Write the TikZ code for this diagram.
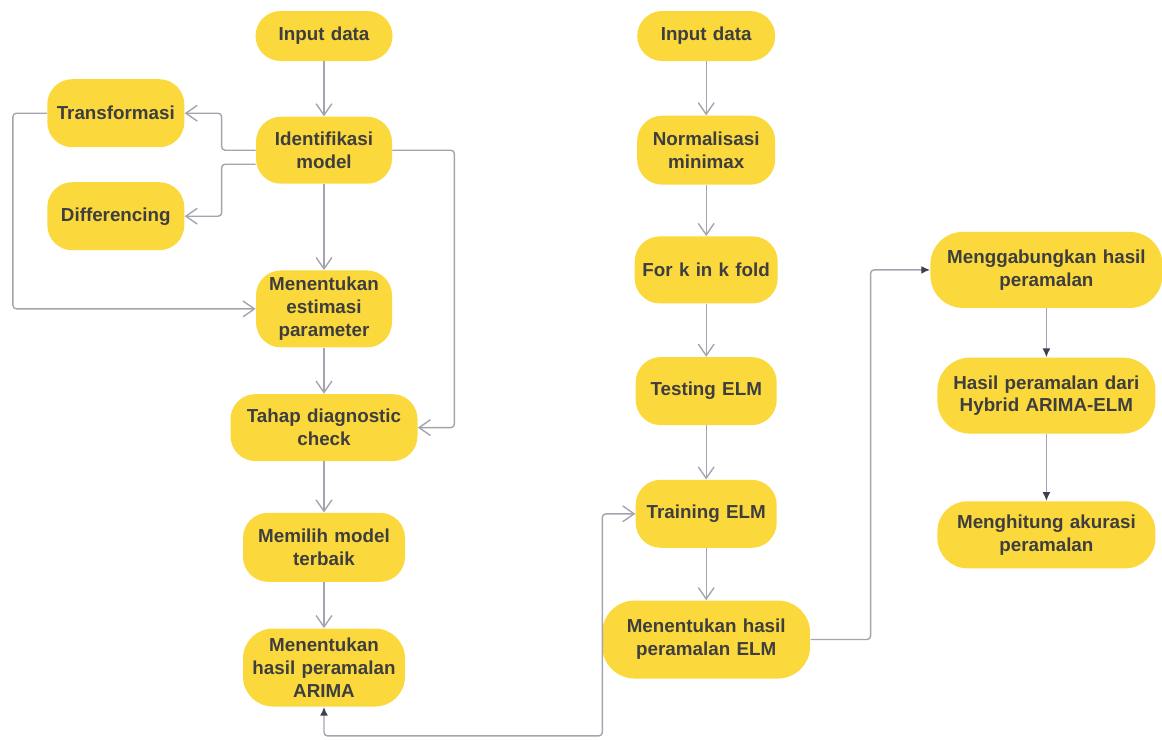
\documentclass[tikz,border=0pt]{standalone}
\usepackage{fontspec}
\setmainfont{Liberation Sans}
\usepackage{xcolor}
\usepackage{tikz}
\usetikzlibrary{arrows.meta,positioning,calc}
\definecolor{boxyellow}{HTML}{FBD93C}
\definecolor{txtgray}{HTML}{3E3E3E}
\definecolor{linegray}{HTML}{A4A4AE}
\definecolor{tipdark}{HTML}{3C4150}

\begin{document}
\begin{tikzpicture}[
  block/.style={fill=boxyellow,text=txtgray,font=\bfseries\fontsize{10.7}{13}\selectfont,rounded corners=0.5cm,align=center,inner sep=0pt,minimum height=1.36cm},
  arr/.style={-{Straight Barb[length=6.5pt,width=9pt]},line width=0.8pt,draw=linegray,rounded corners=2pt},
  arrf/.style={line width=0.8pt,draw=linegray,rounded corners=2pt,arrows={-{Latex[length=5pt,width=4.5pt,color=tipdark]}}}
]
  \useasboundingbox (0,0) rectangle (23.24,-14.78);

  % ARIMA
  \node[block,minimum height=1.0cm,text width=2.74cm] (inA) at (6.48,-0.72) {Input data};
  \node[block,minimum height=1.34cm,text width=2.72cm,below=1.1cm of inA] (idA) {Identifikasi\\model};
  \node[block,text width=2.74cm,left=1.42cm of idA,yshift=0.74cm] (transA) {Transformasi};
  \node[block,text width=2.74cm,left=1.42cm of idA,yshift=-1.32cm] (diffA) {Differencing};
  \node[block,minimum height=1.54cm,text width=2.72cm,below=1.72cm of idA] (estA) {Menentukan\\estimasi\\parameter};
  \node[block,minimum height=1.34cm,text width=3.74cm,below=0.92cm of estA] (diagA) {Tahap diagnostic\\check};
  \node[block,minimum height=1.38cm,text width=3.24cm,below=1.02cm of diagA] (pilihA) {Memilih model\\terbaik};
  \node[block,minimum height=1.56cm,text width=3.24cm,rounded corners=0.6cm,below=0.92cm of pilihA] (arima) {Menentukan\\hasil peramalan\\ARIMA};

  % ELM
  \node[block,minimum height=1.0cm,text width=2.76cm,right=4.88cm of inA] (inB) {Input data};
  \node[block,minimum height=1.38cm,text width=2.76cm,below=1.08cm of inB] (normB) {Normalisasi\\minimax};
  \node[block,minimum height=1.34cm,text width=2.86cm,below=1.02cm of normB] (foldB) {For k in k fold};
  \node[block,text width=2.82cm,below=1.06cm of foldB] (testB) {Testing ELM};
  \node[block,text width=2.82cm,below=1.08cm of testB] (trainB) {Training ELM};
  \node[block,minimum height=1.56cm,text width=4.16cm,rounded corners=0.65cm,below=1.04cm of trainB] (elmB) {Menentukan hasil\\peramalan ELM};

  % hybrid
  \node[block,minimum height=1.52cm,text width=4.64cm,rounded corners=0.65cm,right=3.04cm of foldB] (gabung) {Menggabungkan hasil\\peramalan};
  \node[block,minimum height=1.52cm,text width=4.36cm,rounded corners=0.65cm,below=0.98cm of gabung] (hasilC) {Hasil peramalan dari\\Hybrid ARIMA-ELM};
  \node[block,minimum height=1.34cm,text width=4.36cm,rounded corners=0.6cm,below=1.34cm of hasilC] (akurC) {Menghitung akurasi\\peramalan};

  \draw[arr] (inA) -- (idA);
  \draw[arr] (idA.west) -- ++(-0.68,0) |- (transA.east);
  \draw[arr] ([yshift=-0.28cm]idA.west) -- ++(-0.68,0) |- (diffA.east);
  \draw[arr] (transA.west) -- ++(-0.68,0) |- (estA.west);
  \draw[arr] (idA.east) -- ++(1.24,0) |- (diagA.east);
  \draw[arr] (idA) -- (estA);
  \draw[arr] (estA) -- (diagA);
  \draw[arr] (diagA) -- (pilihA);
  \draw[arr] (pilihA) -- (arima);

  \draw[arr] (inB) -- (normB);
  \draw[arr] (normB) -- (foldB);
  \draw[arr] (foldB) -- (testB);
  \draw[arr] (testB) -- (trainB);
  \draw[arr] (trainB) -- (elmB);
  \draw[arrf] (elmB.east) -- ++(1.2,0) |- (gabung.west);
  \draw[arrf] (gabung) -- (hasilC);
  \draw[arrf] (hasilC) -- (akurC);

  \draw[line width=0.8pt,draw=linegray,rounded corners=2pt,arrows={{Latex[length=5pt,width=4.5pt,color=tipdark]}-{Straight Barb[length=6.5pt,width=9pt]}}]
    (arima.south) -- ++(0,-0.58) -| ([xshift=-0.66cm]trainB.west) -- (trainB.west);
\end{tikzpicture}
\end{document}
